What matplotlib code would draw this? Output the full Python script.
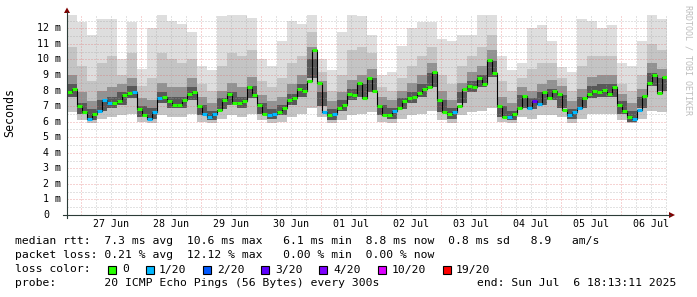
import numpy as np
import pandas as pd
import matplotlib
matplotlib.use('Agg')
import matplotlib.pyplot as plt
import matplotlib.dates as mdates
from matplotlib.patches import Polygon, Rectangle
from matplotlib.lines import Line2D

W, H = 697, 297
MONO = 'DejaVu Sans Mono'

end = pd.Timestamp('2025-07-06 18:13:11')
start = end - pd.Timedelta(days=10)

# median rtt in ms, one value per 2 hours
median = [7.9, 8.1, 7.0, 6.6, 6.2, 6.5, 6.7, 7.4, 7.2, 7.2, 7.35, 7.7,
          7.85, 7.9, 6.8, 6.4, 6.2, 6.65, 7.5, 7.6, 7.3, 7.1, 7.1, 7.4,
          7.8, 7.9, 7.0, 6.5, 6.3, 6.5, 6.75, 7.4, 7.8, 7.2, 7.2, 7.3,
          8.2, 7.7, 7.05, 6.5, 6.45, 6.5, 6.6, 6.9, 7.4, 7.5, 8.1, 7.95,
          8.6, 10.6, 8.5, 6.6, 6.4, 6.5, 6.9, 7.1, 7.8, 7.7, 8.5, 7.5,
          8.8, 8.0, 7.0, 6.4, 6.4, 6.7, 6.9, 7.3, 7.5, 7.6, 7.85, 8.1,
          8.2, 9.2, 7.4, 6.6, 6.5, 6.6, 7.0, 8.1, 8.3, 8.2, 8.8, 8.45,
          9.95, 9.1, 7.0, 6.3, 6.3, 6.5, 6.9, 7.65, 6.9, 7.3, 7.15, 7.9,
          7.5, 8.0, 7.8, 6.75, 6.45, 6.6, 6.9, 7.5, 7.8, 8.0, 7.9, 8.05,
          7.8, 8.25, 7.05, 6.7, 6.3, 6.15, 6.75, 7.65, 8.5, 9.0, 7.85, 8.9]

# loss bucket per 2 hours (index into loss_colors)
loss = [0, 0, 0, 0, 1, 0, 1, 1, 1, 0, 0, 0,
        0, 1, 0, 0, 1, 1, 1, 0, 0, 0, 0, 0,
        0, 0, 0, 1, 1, 1, 0, 0, 0, 0, 0, 0,
        0, 0, 0, 0, 1, 1, 0, 0, 0, 0, 0, 0,
        0, 0, 0, 1, 0, 1, 0, 0, 0, 0, 0, 0,
        0, 0, 0, 0, 0, 1, 0, 0, 0, 0, 0, 0,
        0, 0, 0, 0, 0, 1, 0, 0, 0, 0, 0, 0,
        0, 0, 0, 0, 1, 0, 0, 0, 1, 3, 1, 0,
        0, 0, 0, 0, 1, 1, 1, 0, 0, 0, 0, 0,
        0, 0, 0, 0, 0, 1, 1, 0, 0, 0, 0, 0]

loss_colors = ['#26ff00', '#00b8ff', '#0059ff', '#5e00ff', '#7e00ff', '#dd00ff', '#ff0000']
loss_labels = ['0', '1/20', '2/20', '3/20', '4/20', '10/20', '19/20']

# smoke envelopes in ms, one value per 4 hours
smoke_top = [12.9, 12.4, 11.6, 12.6, 12.6, 10.0, 12.4, 9.4, 12.0, 12.9, 12.5, 12.3,
             11.8, 9.6, 9.3, 12.8, 12.9, 12.9, 12.7, 10.0, 9.6, 11.2, 12.5, 12.3,
             12.9, 10.0, 9.3, 11.8, 12.9, 12.8, 11.6, 9.0, 9.2, 10.9, 12.0, 12.4,
             12.4, 11.3, 11.2, 11.6, 11.6, 12.9, 12.9, 10.2, 9.3, 9.8, 12.0, 12.2,
             11.2, 9.5, 9.2, 12.6, 12.5, 12.0, 12.2, 9.8, 9.6, 11.2, 12.9, 12.6]
smoke_mid = [10.8, 9.6, 8.6, 9.8, 10.2, 9.0, 10.4, 8.3, 8.8, 10.4, 10.0, 9.8,
             10.0, 8.4, 8.0, 9.6, 10.4, 10.2, 10.6, 8.6, 8.2, 8.8, 9.8, 10.2,
             11.8, 9.2, 8.0, 9.0, 10.6, 10.8, 10.4, 8.2, 8.0, 8.8, 9.6, 10.2,
             10.8, 9.0, 8.4, 9.6, 10.2, 10.8, 11.6, 8.6, 8.0, 8.8, 9.4, 9.8,
             9.8, 8.8, 8.0, 9.6, 10.2, 10.2, 10.2, 8.4, 8.0, 9.0, 11.0, 10.6]
smoke_dark = [9.0, 7.9, 7.3, 8.0, 8.2, 8.4, 8.8, 7.5, 7.4, 8.5, 8.2, 8.2,
              8.8, 7.6, 7.2, 8.0, 8.5, 8.2, 8.9, 7.7, 7.3, 7.6, 8.4, 9.0,
              10.8, 8.6, 7.3, 7.9, 8.7, 9.0, 9.4, 7.6, 7.4, 8.0, 8.5, 9.0,
              9.8, 8.0, 7.4, 8.5, 9.2, 9.6, 10.6, 7.6, 7.2, 8.2, 8.0, 8.4,
              8.7, 8.3, 7.3, 8.1, 8.9, 9.0, 9.0, 7.8, 7.2, 8.1, 9.8, 9.4]
smoke_core = [8.4, 7.2, 6.8, 7.4, 7.6, 7.9, 8.3, 7.0, 6.9, 7.9, 7.6, 7.6,
              8.2, 7.1, 6.7, 7.5, 7.9, 7.6, 8.3, 7.2, 6.8, 7.1, 7.8, 8.4,
              10.0, 7.9, 6.8, 7.4, 8.1, 8.4, 8.8, 7.1, 6.9, 7.5, 7.9, 8.4,
              9.1, 7.4, 6.9, 7.9, 8.6, 9.0, 9.9, 7.0, 6.7, 7.7, 7.5, 7.9,
              8.1, 7.7, 6.8, 7.6, 8.3, 8.4, 8.4, 7.3, 6.7, 7.6, 9.1, 8.8]
smoke_low = [7.6, 6.5, 6.1, 6.7, 6.9, 7.1, 7.5, 6.3, 6.2, 7.2, 6.9, 6.9,
             7.4, 6.4, 6.1, 6.8, 7.1, 6.9, 7.5, 6.5, 6.2, 6.4, 7.1, 7.6,
             8.8, 7.0, 6.1, 6.7, 7.4, 7.6, 7.9, 6.4, 6.2, 6.8, 7.2, 7.6,
             8.2, 6.6, 6.2, 7.2, 7.9, 8.2, 8.9, 6.3, 6.1, 6.9, 6.8, 7.1,
             7.4, 6.9, 6.2, 6.9, 7.5, 7.6, 7.6, 6.5, 6.0, 6.9, 8.3, 8.0]
smoke_bot = [6.6, 6.1, 5.9, 6.2, 6.3, 6.4, 6.5, 6.0, 5.9, 6.4, 6.3, 6.3,
             6.5, 6.0, 5.9, 6.2, 6.4, 6.3, 6.5, 6.1, 5.9, 6.0, 6.3, 6.5,
             6.9, 6.3, 5.9, 6.1, 6.4, 6.5, 6.6, 6.0, 5.9, 6.2, 6.4, 6.5,
             6.7, 6.1, 5.9, 6.4, 6.6, 6.7, 6.9, 6.0, 5.9, 6.3, 6.2, 6.4,
             6.4, 6.3, 5.9, 6.2, 6.5, 6.5, 6.5, 6.1, 5.9, 6.2, 6.7, 6.6]

stats_rtt = "median rtt:  7.3 ms avg  10.6 ms max   6.1 ms min  8.8 ms now  0.8 ms sd   8.9   am/s"
stats_loss = "packet loss: 0.21 % avg  12.12 % max   0.00 % min  0.00 % now"
probe_text = "probe:       20 ICMP Echo Pings (56 Bytes) every 300s"
end_text = "end: Sun Jul  6 18:13:11 2025"


def px(x, y):
    return x / W, 1 - y / H


def edge(v):
    return list(v) + [v[-1]]


t_med = mdates.date2num(pd.date_range(start, periods=len(median) + 1, freq='2h').to_pydatetime())
t_smk = mdates.date2num(pd.date_range(start, periods=len(smoke_top) + 1, freq='4h').to_pydatetime())

fig = plt.figure(figsize=(W / 100, H / 100), dpi=100)
fig.patch.set_facecolor('white')
ax = fig.add_axes([67 / W, 82 / H, 600 / W, 200 / H])
ax.xaxis_date()

# smoke, lightest band first
bands = [(smoke_bot, smoke_top, '#dedede'),
         (smoke_bot, smoke_mid, '#c4c4c4'),
         (smoke_low, smoke_dark, '#929292'),
         (smoke_low, smoke_core, '#585858')]
for lo, hi, c in bands:
    ax.fill_between(t_smk, edge(lo), edge(hi), step='post', color=c, lw=0, zorder=1)

# median line
ax.step(t_med, edge(median), where='post', color='black', lw=0.8, zorder=3)
ax.hlines(median, t_med[:-1], t_med[1:], colors=[loss_colors[l] for l in loss], lw=2.2, zorder=4)

ax.set_xlim(t_med[0], t_med[-1])
ax.set_ylim(0, 200 / 15.55)

ax.xaxis.set_major_locator(mdates.DayLocator())
ax.xaxis.set_minor_locator(mdates.HourLocator(byhour=[6, 12, 18]))
ax.yaxis.set_major_locator(plt.MultipleLocator(1))
ax.yaxis.set_minor_locator(plt.MultipleLocator(0.5))
ax.xaxis.set_major_formatter(plt.NullFormatter())
ax.yaxis.set_major_formatter(plt.NullFormatter())
ax.tick_params(which='both', length=0)
ax.set_axisbelow(False)
ax.grid(which='major', color='#e06060', alpha=0.55, lw=0.72, ls=(0, (1, 2)))
ax.grid(which='minor', color='#a0a0a0', alpha=0.6, lw=0.72, ls=(0, (1, 2)))
for s in ax.spines.values():
    s.set_visible(False)

# y labels
ytr = ax.get_yaxis_transform()
for i in range(13):
    if i == 0:
        ax.text(-18 / 600, i, '0', transform=ytr, ha='right', va='center',
                family=MONO, fontsize=7.2, clip_on=False)
    else:
        ax.text(-6 / 600, i, f'{i} m', transform=ytr, ha='right', va='center',
                family=MONO, fontsize=7.2, clip_on=False)

# day labels at noon
xtr = ax.get_xaxis_transform()
for d in pd.date_range('2025-06-27 12:00', '2025-07-06 12:00', freq='D'):
    ax.text(mdates.date2num(d.to_pydatetime()), -9 / 200, d.strftime('%d %b'), transform=xtr,
            ha='center', va='center', family=MONO, fontsize=7.2, clip_on=False)

# axes lines and arrows
axis_c = '#2c3c38'
fig.add_artist(Line2D(*zip(px(67, 218), px(67, 12)), color=axis_c, lw=0.8))
fig.add_artist(Line2D(*zip(px(63, 215), px(670, 215)), color=axis_c, lw=0.8))
fig.add_artist(Polygon([px(67, 7.5), px(64, 13), px(70, 13)], closed=True,
                       transform=fig.transFigure, color='#7f0000', lw=0))
fig.add_artist(Polygon([px(675, 215), px(669, 212), px(669, 218)], closed=True,
                       transform=fig.transFigure, color='#7f0000', lw=0))

# labels around
fig.text(*px(10, 113), 'Seconds', rotation=90, ha='center', va='center', family=MONO, fontsize=8.4)
fig.text(*px(688, 60), 'RRDTOOL / TOBI OETIKER', rotation=270, ha='center', va='center',
         family=MONO, fontsize=6, color='#bdbdbd')

# legend
fig.text(*px(15, 241.5), stats_rtt, ha='left', va='center', family=MONO, fontsize=8.2)
fig.text(*px(15, 255.5), stats_loss, ha='left', va='center', family=MONO, fontsize=8.2)
fig.text(*px(15, 269.5), 'loss color:', ha='left', va='center', family=MONO, fontsize=8.2)
box_x = [108, 146, 203, 261, 319, 378, 443]
lab_x = [122, 159, 217, 275, 333, 392, 456]
for bx, lx, c, lab in zip(box_x, lab_x, loss_colors, loss_labels):
    fig.add_artist(Rectangle(px(bx, 273.5), 8 / W, 8 / H, transform=fig.transFigure,
                             facecolor=c, edgecolor='black', lw=0.8))
    fig.text(*px(lx, 269.5), lab, ha='left', va='center', family=MONO, fontsize=8.2)
fig.text(*px(15, 283), probe_text, ha='left', va='center', family=MONO, fontsize=8.2)
fig.text(*px(477, 283), end_text, ha='left', va='center', family=MONO, fontsize=8.2)

fig.savefig('out.png', dpi=100, facecolor='white')
